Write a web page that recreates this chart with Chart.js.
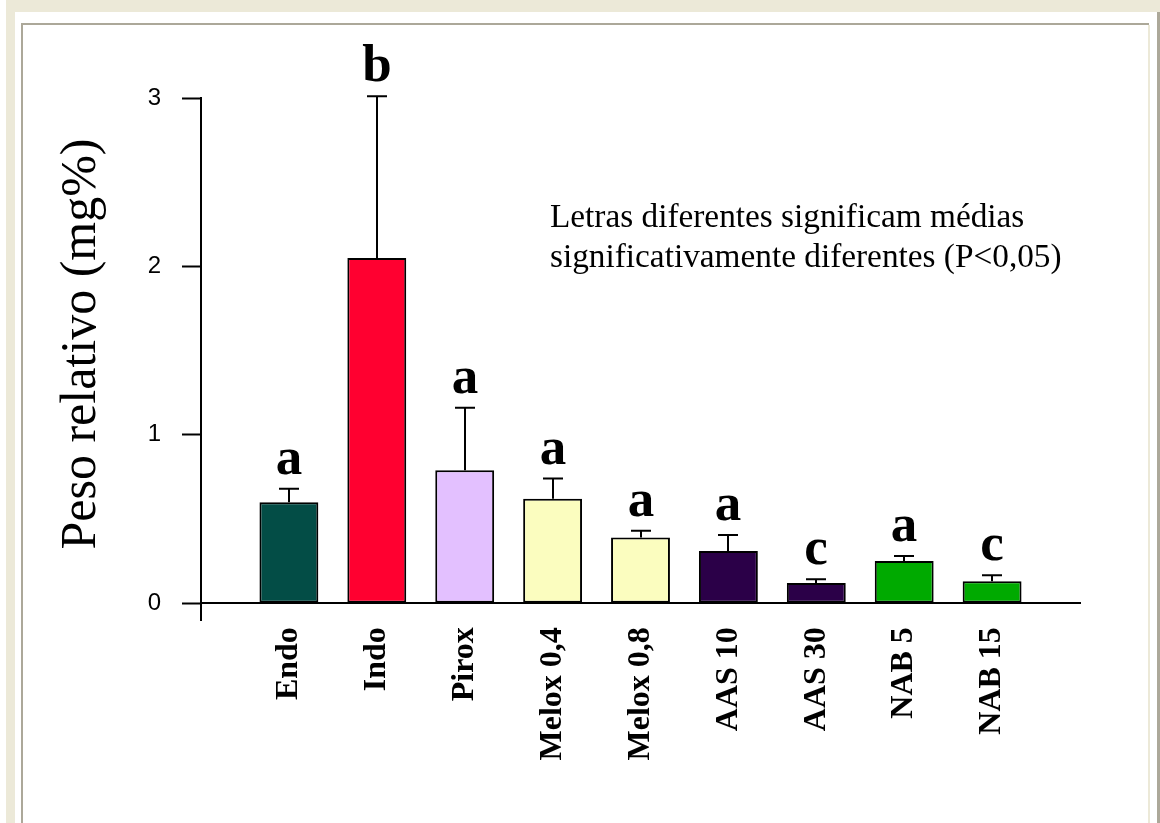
<!DOCTYPE html>
<html>
<head>
<meta charset="utf-8">
<title>Peso relativo</title>
<script src="https://cdn.jsdelivr.net/npm/chart.js@4.4.0/dist/chart.umd.min.js"></script>
<style>
  html, body { margin: 0; padding: 0; background: #fff; }
  #page { position: relative; width: 1160px; height: 823px; overflow: hidden; background: #fff; }
  .f { position: absolute; }
  #c { position: absolute; left: 0; top: 0; }
</style>
</head>
<body>
<div id="page">
  <!-- window frame -->
  <div class="f" style="left:6px;top:0;width:1154px;height:12px;background:#ECE9D8"></div>
  <div class="f" style="left:6px;top:0;width:9px;height:823px;background:#ECE9D8"></div>
  <div class="f" style="left:21px;top:23px;width:1128px;height:2px;background:#ACA899"></div>
  <div class="f" style="left:21px;top:23px;width:2px;height:800px;background:#ACA899"></div>
  <div class="f" style="left:1148px;top:25px;width:2px;height:798px;background:#ECE9D8"></div>
  <div class="f" style="left:1157px;top:12px;width:3px;height:811px;background:#ACA899"></div>
  <canvas id="c" width="1160" height="823"></canvas>
</div>
<script>
// Groups, mean relative weight (mg%) and standard error
const categories = ['Endo', 'Indo', 'Pirox', 'Melox 0,4', 'Melox 0,8', 'AAS 10', 'AAS 30', 'NAB 5', 'NAB 15'];
const means = [0.60, 2.05, 0.79, 0.62, 0.39, 0.31, 0.12, 0.25, 0.13];
const sems = [0.08, 0.96, 0.37, 0.12, 0.04, 0.095, 0.022, 0.03, 0.036];
const letters = ['a', 'b', 'a', 'a', 'a', 'a', 'c', 'a', 'c'];
const yTicks = [0, 1, 2, 3];
const barColors = ['#034D46', '#FF0030', '#E3C0FF', '#FBFDBF', '#FBFDBF', '#2B0048', '#2B0048', '#00AA00', '#00AA00'];

const yTitle = 'Peso relativo (mg%)';
const noteLines = ['Letras diferentes significam médias', 'significativamente diferentes (P<0,05)'];

// blank slots on both ends leave room between the axis and the first/last bar
const labels = [''].concat(categories, ['']);
const padded = [null].concat(means, [null]);
const fills = ['rgba(0,0,0,0)'].concat(barColors, ['rgba(0,0,0,0)']);

const extras = {
  id: 'errorBarsAndNotes',
  afterDatasetsDraw(chart) {
    const { ctx, scales: { y } } = chart;
    const meta = chart.getDatasetMeta(0);
    ctx.save();
    ctx.strokeStyle = '#000';
    ctx.fillStyle = '#000';
    ctx.lineWidth = 2;
    ctx.font = 'bold 53px "Liberation Serif", serif';
    ctx.textAlign = 'center';
    ctx.textBaseline = 'alphabetic';
    means.forEach((m, i) => {
      const bar = meta.data[i + 1];
      const cx = Math.round(bar.x);
      const yTop = y.getPixelForValue(m + sems[i]);
      const yBar = y.getPixelForValue(m);
      ctx.beginPath();
      ctx.moveTo(cx, yBar);
      ctx.lineTo(cx, yTop);
      ctx.moveTo(cx - 10, yTop);
      ctx.lineTo(cx + 10, yTop);
      ctx.stroke();
      ctx.fillText(letters[i], cx, yTop - 15);
    });
    ctx.restore();
  },
  afterDraw(chart) {
    const { ctx } = chart;
    ctx.save();
    ctx.fillStyle = '#000';
    // y-axis title
    ctx.translate(95, 344);
    ctx.rotate(-Math.PI / 2);
    ctx.font = '50px "Liberation Serif", serif';
    ctx.textAlign = 'center';
    ctx.textBaseline = 'alphabetic';
    ctx.fillText(yTitle, 0, 0);
    ctx.restore();

    // significance note
    ctx.save();
    ctx.fillStyle = '#000';
    ctx.font = '33.3px "Liberation Serif", serif';
    ctx.textAlign = 'left';
    ctx.textBaseline = 'alphabetic';
    noteLines.forEach((t, k) => ctx.fillText(t, 550, 227 + k * 40));
    ctx.restore();
  }
};

new Chart(document.getElementById('c'), {
  type: 'bar',
  data: {
    labels: labels,
    datasets: [{
      data: padded,
      backgroundColor: fills,
      borderColor: '#000',
      borderWidth: 2,
      borderSkipped: false,
      barPercentage: 0.67,
      categoryPercentage: 1
    }]
  },
  options: {
    responsive: false,
    animation: false,
    devicePixelRatio: 1,
    layout: { padding: { left: 20, top: 98, right: 80, bottom: 203 } },
    plugins: { legend: { display: false }, tooltip: { enabled: false } },
    scales: {
      x: {
        type: 'category',
        offset: false,
        position: { y: 0 },
        grid: { display: false },
        border: { display: true, color: '#000', width: 2 },
        ticks: {
          color: '#000',
          autoSkip: false,
          minRotation: 90,
          maxRotation: 90,
          padding: 16,
          font: { family: '"Liberation Serif", serif', size: 32, weight: 'bold' }
        },
        afterFit(s) { s.height = 0; }
      },
      y: {
        min: -0.1,
        max: 3,
        position: 'left',
        afterBuildTicks(s) { s.ticks = yTicks.map(v => ({ value: v })); },
        afterFit(s) { s.width = 181; },
        grid: { display: true, drawOnChartArea: false, drawTicks: true, tickLength: 19, tickWidth: 2, tickColor: '#000' },
        border: { display: true, color: '#000', width: 2 },
        ticks: {
          color: '#000',
          padding: 21,
          font: { family: '"Liberation Sans", Arial, sans-serif', size: 24 }
        }
      }
    }
  },
  plugins: [extras]
});
</script>
</body>
</html>
